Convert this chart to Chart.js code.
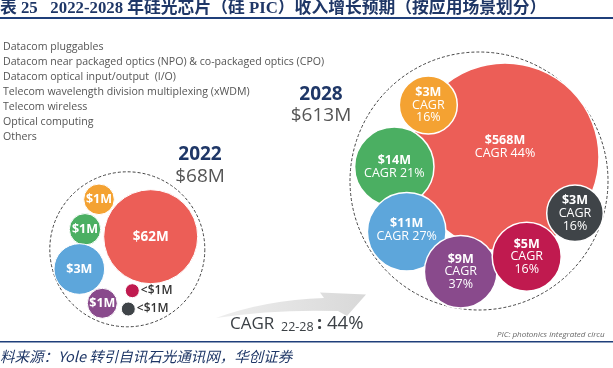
<!DOCTYPE html>
<html><head><meta charset="utf-8">
<script src="https://cdn.jsdelivr.net/npm/chart.js@4.4.1/dist/chart.umd.min.js"></script>
<style>html,body{margin:0;padding:0;background:#fff;overflow:hidden}#wrap{width:613px;height:368px;position:relative}</style>
</head><body><div id="wrap"><canvas id="c" width="613" height="368"></canvas></div>
<script>
// ---------- data ----------
const titleText = "表 25   2022-2028 年硅光芯片（硅 PIC）收入增长预期（按应用场景划分）";
const sourceText = "料来源：Yole 转引自讯石光通讯网，华创证券";
const noteText = "PIC: photonics integrated circu";
const segments = [
  "Datacom pluggables",
  "Datacom near packaged optics (NPO) & co-packaged optics (CPO)",
  "Datacom optical input/output  (I/O)",
  "Telecom wavelength division multiplexing (xWDM)",
  "Telecom wireless",
  "Optical computing",
  "Others"
];
const years = ["2022", "2028"];
const totals = [68, 613];
const values2022 = [62, 1, 1, 3, 1, 0.5, 0.5];
const values2028 = [568, 3, 14, 11, 9, 5, 3];
const cagr2028 = [44, 16, 21, 27, 37, 16, 16];
const cagrTotal = 44;

// ---------- layout / style ----------
const colors = ["#EC5E57", "#F4A232", "#4BAF62", "#5DA6DB", "#894A8C", "#C01A4F", "#3F4448"];
const pos2022 = [[150.7,236.7],[99,199.3],[85,229.3],[79.3,269],[102.3,303.3],[132.3,290.7],[128.3,309]];
const rad2022 = [47,15.3,15.7,25.3,15,7,7];
const pos2028 = [[505,157],[428.3,105],[394.3,166.7],[406.7,231.7],[460.7,271.7],[526.7,256.7],[575,213.3]];
const rad2028 = [94,29,39.7,39.3,36.3,34.5,28.3];
const wrap2028 = [false,true,false,false,true,true,true];
const labelDy2028 = [-10,0,0,-2,0,0,0];
const groupCircles = [{x:127.3,y:249.3,r:77.5},{x:479,y:181,r:129}];
const W = 613, H = 368;
const FONT = "'Open Sans', 'DejaVu Sans', sans-serif";

function fmt(v){ return v < 1 ? "<$1M" : "$" + v + "M"; }

const ds2022 = values2022.map((v,i)=>({x:pos2022[i][0], y:pos2022[i][1], r:rad2022[i], v:v}));
const ds2028 = values2028.map((v,i)=>({x:pos2028[i][0], y:pos2028[i][1], r:rad2028[i], v:v, c:cagr2028[i]}));

const decor = {
  id:'decor',
  beforeDatasetsDraw(chart){
    const c = chart.ctx, xs = chart.scales.x, ys = chart.scales.y;
    c.save();
    // header
    c.fillStyle = "#1F3767";
    c.font = "bold 16.8px 'Liberation Serif', 'Noto Sans CJK SC', serif";
    c.textBaseline = "alphabetic"; c.textAlign = "left";
    c.fillText(titleText, 0, 13);
    c.fillStyle = "#1F3F7A";
    c.fillRect(0, 17, W, 2);
    c.fillRect(0, 341, W, 1.5);
    // source
    c.font = "italic 14.5px 'Noto Sans CJK SC', sans-serif";
    c.fillStyle = "#1F3767";
    c.fillText(sourceText, 0, 362);
    // note
    c.font = "italic 8px " + FONT;
    c.fillStyle = "#666";
    c.fillText(noteText, 497, 337);
    // legend text
    c.font = "10.6px " + FONT;
    c.fillStyle = "#555";
    c.textBaseline = "middle";
    segments.forEach((s,i)=> c.fillText(s, 3, 47.3 + i*15));
    // year labels
    c.textAlign = "center";
    c.fillStyle = "#1F3767";
    c.font = "bold 19px " + FONT;
    c.fillText(years[0], 200, 155);
    c.fillText(years[1], 321, 95);
    c.fillStyle = "#555";
    c.font = "19px " + FONT;
    c.fillText("$" + totals[0] + "M", 200, 177);
    c.fillText("$" + totals[1] + "M", 321, 116);
    // dashed group circles
    c.setLineDash([3,2]);
    c.strokeStyle = "#444";
    c.lineWidth = 1;
    groupCircles.forEach(g=>{
      const px = xs.getPixelForValue(g.x), py = ys.getPixelForValue(g.y);
      const pr = xs.getPixelForValue(g.x + g.r) - px;
      c.beginPath(); c.arc(px, py, pr, 0, Math.PI*2); c.stroke();
    });
    c.setLineDash([]);
    // arrow
    const grd = c.createLinearGradient(215, 0, 366, 0);
    grd.addColorStop(0, "#eeeeee"); grd.addColorStop(1, "#d8d8d8");
    c.fillStyle = grd;
    c.beginPath();
    c.moveTo(216, 318);
    c.quadraticCurveTo(265, 300, 324, 298);
    c.lineTo(320, 292.5);
    c.lineTo(366, 294.5);
    c.lineTo(347, 316);
    c.lineTo(338, 311);
    c.quadraticCurveTo(275, 309, 216, 318);
    c.closePath();
    c.fill();
    // CAGR text
    c.textAlign = "left"; c.textBaseline = "alphabetic";
    c.fillStyle = "#3C4146";
    c.font = "17px " + FONT;
    c.fillText("CAGR", 230, 328.5);
    c.font = "12.5px " + FONT;
    c.fillText("22-28", 281, 331);
    c.font = "bold 18px " + FONT;
    c.fillText(":", 317, 328.5);
    c.font = "18.5px " + FONT;
    c.fillText(cagrTotal + "%", 327, 328.5);
    c.restore();
  },
  afterDatasetsDraw(chart){
    const c = chart.ctx;
    c.save();
    c.textAlign = "center"; c.textBaseline = "middle";
    // 2022 labels
    chart.getDatasetMeta(0).data.forEach((el,i)=>{
      const v = values2022[i];
      if (v < 1){
        c.fillStyle = "#333"; c.textAlign = "left";
        c.font = "600 12px " + FONT;
        c.fillText(fmt(v), el.x + rad2022[i] + 1.5, el.y);
        c.textAlign = "center";
      } else {
        c.fillStyle = "#fff";
        c.font = (v > 10 ? "bold 13.5px " : "bold 12.5px ") + FONT;
        c.fillText(fmt(v), el.x, el.y);
      }
    });
    // 2028 labels
    chart.getDatasetMeta(1).data.forEach((el,i)=>{
      c.fillStyle = "#fff";
      const lines = wrap2028[i]
        ? [[fmt(values2028[i]), true], ["CAGR", false], [cagr2028[i] + "%", false]]
        : [[fmt(values2028[i]), true], ["CAGR " + cagr2028[i] + "%", false]];
      const lh = 12.7;
      const y0 = el.y + labelDy2028[i] - (lines.length - 1) * lh / 2;
      lines.forEach((l,k)=>{
        c.font = (l[1] ? "bold 12.5px " : "12.5px ") + FONT;
        c.fillText(l[0], el.x, y0 + k*lh);
      });
    });
    c.restore();
  }
};

new Chart(document.getElementById('c'), {
  type: 'bubble',
  data: {
    datasets: [
      {label: years[0], data: ds2022, backgroundColor: colors, borderColor: "#fff", borderWidth: 1, clip: false},
      {label: years[1], data: ds2028, backgroundColor: colors, borderColor: "#fff", borderWidth: 1.5, clip: false}
    ]
  },
  options: {
    responsive: false, animation: false, events: [],
    layout: {padding: 0, autoPadding: false},
    scales: {
      x: {type: 'linear', display: false, min: 0, max: W},
      y: {type: 'linear', display: false, min: 0, max: H, reverse: true}
    },
    plugins: {legend: {display: false}, tooltip: {enabled: false}, title: {display: false}}
  },
  plugins: [decor]
});
</script></body></html>
